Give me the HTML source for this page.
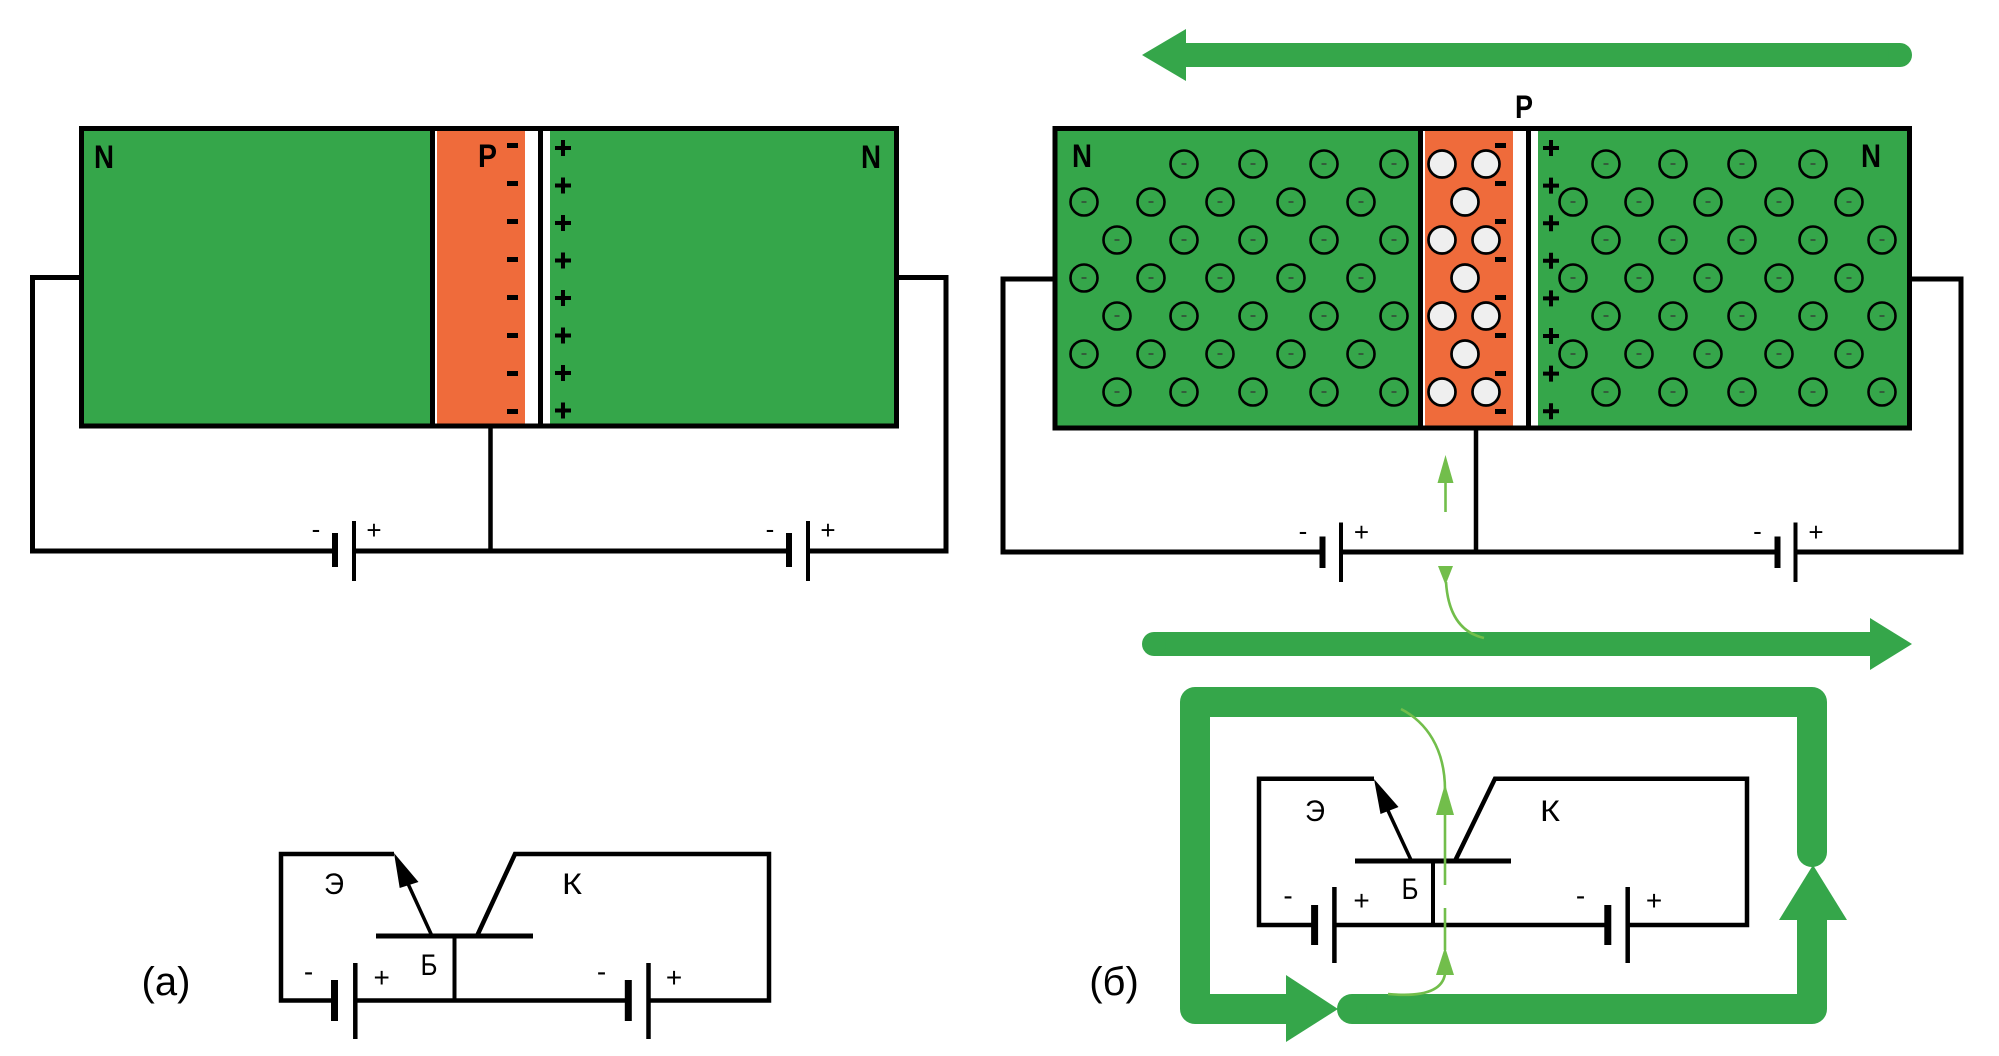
<!DOCTYPE html>
<html>
<head>
<meta charset="utf-8">
<style>
html,body{margin:0;padding:0;background:#ffffff;}
svg{display:block;}
text{font-family:"Liberation Sans","DejaVu Sans",sans-serif;}
</style>
</head>
<body>
<svg width="1999" height="1056" viewBox="0 0 1999 1056" xmlns="http://www.w3.org/2000/svg">
<rect x="0" y="0" width="1999" height="1056" fill="#ffffff"/>

<!-- ================= LEFT DIAGRAM (a top) ================= -->
<rect x="81.5" y="128.5" width="815" height="297.5" fill="#35a64a"/>
<rect x="435" y="131" width="2.5" height="293" fill="#ffffff"/>
<rect x="437" y="131" width="88" height="293" fill="#ef6b3b"/>
<rect x="525" y="131" width="13" height="293" fill="#ffffff"/>
<rect x="543" y="131" width="7" height="293" fill="#ffffff"/>
<line x1="432.5" y1="128.5" x2="432.5" y2="426" stroke="#000" stroke-width="5"/>
<line x1="540.5" y1="128.5" x2="540.5" y2="426" stroke="#000" stroke-width="5"/>
<rect x="81.5" y="128.5" width="815" height="297.5" fill="none" stroke="#000" stroke-width="5"/>

<!-- minus marks -->
<path d="M507 145.5H518M507 183.5H518M507 221.5H518M507 259.5H518M507 297.5H518M507 335.5H518M507 373.5H518M507 411.5H518" stroke="#000" stroke-width="5"/>
<!-- plus marks -->
<path d="M555 148H571M563 140V156M555 185.5H571M563 177.5V193.5M555 223H571M563 215V231M555 260.5H571M563 252.5V268.5M555 298H571M563 290V306M555 335.5H571M563 327.5V343.5M555 373H571M563 365V381M555 410.5H571M563 402.5V418.5" stroke="#000" stroke-width="4"/>

<text x="94" y="168" font-size="32" font-weight="bold" textLength="20" lengthAdjust="spacingAndGlyphs">N</text>
<text x="861" y="168" font-size="32" font-weight="bold" textLength="20" lengthAdjust="spacingAndGlyphs">N</text>
<text x="478" y="167" font-size="32" font-weight="bold" textLength="19" lengthAdjust="spacingAndGlyphs">P</text>

<!-- wires -->
<g stroke="#000" stroke-width="5" fill="none">
<polyline points="82,277.5 32.5,277.5 32.5,551 335,551"/>
<line x1="354" y1="551" x2="789" y2="551"/>
<polyline points="808,551 946,551 946,277.5 896,277.5"/>
</g>
<line x1="490.5" y1="426" x2="490.5" y2="551" stroke="#000" stroke-width="4.5"/>
<g stroke="#000">
<line x1="335" y1="533" x2="335" y2="567" stroke-width="6"/>
<line x1="354" y1="521" x2="354" y2="581" stroke-width="4"/>
<line x1="789" y1="533" x2="789" y2="567" stroke-width="6"/>
<line x1="808" y1="521" x2="808" y2="581" stroke-width="4"/>
</g>
<g font-size="26" text-anchor="middle">
<text x="316" y="538">-</text>
<text x="374" y="539">+</text>
<text x="770" y="538">-</text>
<text x="828" y="539">+</text>
</g>

<!-- ================= RIGHT DIAGRAM (б top) ================= -->
<!-- big arrows -->
<rect x="1185" y="43" width="715" height="24" fill="#35a64a"/>
<circle cx="1900" cy="55" r="12" fill="#35a64a"/>
<polygon points="1142,55 1186,29 1186,81" fill="#35a64a"/>

<rect x="1154" y="632" width="717" height="24" fill="#35a64a"/>
<circle cx="1154" cy="644" r="12" fill="#35a64a"/>
<polygon points="1870,618 1912,644 1870,670" fill="#35a64a"/>

<text x="1515" y="118" font-size="32" font-weight="bold" textLength="18" lengthAdjust="spacingAndGlyphs">P</text>

<rect x="1055" y="128.5" width="854.5" height="299.5" fill="#35a64a"/>
<rect x="1423" y="131" width="2.5" height="295" fill="#ffffff"/>
<rect x="1425" y="131" width="88" height="295" fill="#ef6b3b"/>
<rect x="1513" y="131" width="13" height="295" fill="#ffffff"/>
<rect x="1531" y="131" width="7" height="295" fill="#ffffff"/>
<line x1="1420.5" y1="128.5" x2="1420.5" y2="428" stroke="#000" stroke-width="5"/>
<line x1="1528.5" y1="128.5" x2="1528.5" y2="428" stroke="#000" stroke-width="5"/>
<rect x="1055" y="128.5" width="854.5" height="299.5" fill="none" stroke="#000" stroke-width="5"/>

<!-- ions -->
<g fill="none" stroke="#000" stroke-width="2.6">
<circle cx="1184" cy="164" r="13.5"/><circle cx="1253" cy="164" r="13.5"/><circle cx="1324" cy="164" r="13.5"/><circle cx="1394" cy="164" r="13.5"/>
<circle cx="1084" cy="202" r="13.5"/><circle cx="1151" cy="202" r="13.5"/><circle cx="1220" cy="202" r="13.5"/><circle cx="1291" cy="202" r="13.5"/><circle cx="1361" cy="202" r="13.5"/>
<circle cx="1117" cy="240" r="13.5"/><circle cx="1184" cy="240" r="13.5"/><circle cx="1253" cy="240" r="13.5"/><circle cx="1324" cy="240" r="13.5"/><circle cx="1394" cy="240" r="13.5"/>
<circle cx="1084" cy="278" r="13.5"/><circle cx="1151" cy="278" r="13.5"/><circle cx="1220" cy="278" r="13.5"/><circle cx="1291" cy="278" r="13.5"/><circle cx="1361" cy="278" r="13.5"/>
<circle cx="1117" cy="316" r="13.5"/><circle cx="1184" cy="316" r="13.5"/><circle cx="1253" cy="316" r="13.5"/><circle cx="1324" cy="316" r="13.5"/><circle cx="1394" cy="316" r="13.5"/>
<circle cx="1084" cy="354" r="13.5"/><circle cx="1151" cy="354" r="13.5"/><circle cx="1220" cy="354" r="13.5"/><circle cx="1291" cy="354" r="13.5"/><circle cx="1361" cy="354" r="13.5"/>
<circle cx="1117" cy="392" r="13.5"/><circle cx="1184" cy="392" r="13.5"/><circle cx="1253" cy="392" r="13.5"/><circle cx="1324" cy="392" r="13.5"/><circle cx="1394" cy="392" r="13.5"/>

<circle cx="1606" cy="164" r="13.5"/><circle cx="1673" cy="164" r="13.5"/><circle cx="1742" cy="164" r="13.5"/><circle cx="1813" cy="164" r="13.5"/>
<circle cx="1573" cy="202" r="13.5"/><circle cx="1639" cy="202" r="13.5"/><circle cx="1708" cy="202" r="13.5"/><circle cx="1779" cy="202" r="13.5"/><circle cx="1849" cy="202" r="13.5"/>
<circle cx="1606" cy="240" r="13.5"/><circle cx="1673" cy="240" r="13.5"/><circle cx="1742" cy="240" r="13.5"/><circle cx="1813" cy="240" r="13.5"/><circle cx="1882" cy="240" r="13.5"/>
<circle cx="1573" cy="278" r="13.5"/><circle cx="1639" cy="278" r="13.5"/><circle cx="1708" cy="278" r="13.5"/><circle cx="1779" cy="278" r="13.5"/><circle cx="1849" cy="278" r="13.5"/>
<circle cx="1606" cy="316" r="13.5"/><circle cx="1673" cy="316" r="13.5"/><circle cx="1742" cy="316" r="13.5"/><circle cx="1813" cy="316" r="13.5"/><circle cx="1882" cy="316" r="13.5"/>
<circle cx="1573" cy="354" r="13.5"/><circle cx="1639" cy="354" r="13.5"/><circle cx="1708" cy="354" r="13.5"/><circle cx="1779" cy="354" r="13.5"/><circle cx="1849" cy="354" r="13.5"/>
<circle cx="1606" cy="392" r="13.5"/><circle cx="1673" cy="392" r="13.5"/><circle cx="1742" cy="392" r="13.5"/><circle cx="1813" cy="392" r="13.5"/><circle cx="1882" cy="392" r="13.5"/>
</g>
<path stroke="#333" stroke-width="1.3" fill="none" d="
M1181.5 164h5M1250.5 164h5M1321.5 164h5M1391.5 164h5
M1081.5 202h5M1148.5 202h5M1217.5 202h5M1288.5 202h5M1358.5 202h5
M1114.5 240h5M1181.5 240h5M1250.5 240h5M1321.5 240h5M1391.5 240h5
M1081.5 278h5M1148.5 278h5M1217.5 278h5M1288.5 278h5M1358.5 278h5
M1114.5 316h5M1181.5 316h5M1250.5 316h5M1321.5 316h5M1391.5 316h5
M1081.5 354h5M1148.5 354h5M1217.5 354h5M1288.5 354h5M1358.5 354h5
M1114.5 392h5M1181.5 392h5M1250.5 392h5M1321.5 392h5M1391.5 392h5
M1603.5 164h5M1670.5 164h5M1739.5 164h5M1810.5 164h5
M1570.5 202h5M1636.5 202h5M1705.5 202h5M1776.5 202h5M1846.5 202h5
M1603.5 240h5M1670.5 240h5M1739.5 240h5M1810.5 240h5M1879.5 240h5
M1570.5 278h5M1636.5 278h5M1705.5 278h5M1776.5 278h5M1846.5 278h5
M1603.5 316h5M1670.5 316h5M1739.5 316h5M1810.5 316h5M1879.5 316h5
M1570.5 354h5M1636.5 354h5M1705.5 354h5M1776.5 354h5M1846.5 354h5
M1603.5 392h5M1670.5 392h5M1739.5 392h5M1810.5 392h5M1879.5 392h5"/>

<!-- holes -->
<g fill="#efefef" stroke="#000" stroke-width="2.7">
<circle cx="1442" cy="164" r="13.5"/><circle cx="1486" cy="164" r="13.5"/>
<circle cx="1465" cy="202" r="13.5"/>
<circle cx="1442" cy="240" r="13.5"/><circle cx="1486" cy="240" r="13.5"/>
<circle cx="1465" cy="278" r="13.5"/>
<circle cx="1442" cy="316" r="13.5"/><circle cx="1486" cy="316" r="13.5"/>
<circle cx="1465" cy="354" r="13.5"/>
<circle cx="1442" cy="392" r="13.5"/><circle cx="1486" cy="392" r="13.5"/>
</g>

<path d="M1495 145.5H1506M1495 183.5H1506M1495 221.5H1506M1495 259.5H1506M1495 297.5H1506M1495 335.5H1506M1495 373.5H1506M1495 411.5H1506" stroke="#000" stroke-width="5"/>
<path d="M1543 148H1559M1551 140V156M1543 185.6H1559M1551 177.6V193.6M1543 223.2H1559M1551 215.2V231.2M1543 260.8H1559M1551 252.8V268.8M1543 298.4H1559M1551 290.4V306.4M1543 336H1559M1551 328V344M1543 373.6H1559M1551 365.6V381.6M1543 411.2H1559M1551 403.2V419.2" stroke="#000" stroke-width="4"/>

<text x="1072" y="167" font-size="32" font-weight="bold" textLength="20" lengthAdjust="spacingAndGlyphs">N</text>
<text x="1861" y="167" font-size="32" font-weight="bold" textLength="20" lengthAdjust="spacingAndGlyphs">N</text>

<!-- wires right -->
<g stroke="#000" stroke-width="5" fill="none">
<polyline points="1056,279 1003,279 1003,552 1322.5,552"/>
<line x1="1341" y1="552" x2="1777.5" y2="552"/>
<polyline points="1795.5,552 1961,552 1961,279 1909,279"/>
</g>
<line x1="1476" y1="428" x2="1476" y2="552" stroke="#000" stroke-width="4.5"/>
<g stroke="#000">
<line x1="1322.5" y1="536.5" x2="1322.5" y2="568" stroke-width="6"/>
<line x1="1341" y1="522.5" x2="1341" y2="582" stroke-width="4"/>
<line x1="1777.5" y1="536.5" x2="1777.5" y2="568" stroke-width="6"/>
<line x1="1795.5" y1="522.5" x2="1795.5" y2="582" stroke-width="4"/>
</g>
<g font-size="26" text-anchor="middle">
<text x="1303" y="540">-</text>
<text x="1361.5" y="541">+</text>
<text x="1757.5" y="540">-</text>
<text x="1816" y="541">+</text>
</g>

<!-- light green arrows top -->
<g stroke="#72be4b" fill="none" stroke-width="2.6">
<line x1="1445.5" y1="480" x2="1445.5" y2="512"/>
<path d="M1446 582 Q1449 630 1484 638"/>
</g>
<polygon points="1445.5,455 1437.5,483 1453.5,483" fill="#72be4b"/>
<polygon points="1438,566 1453,566 1445.5,585" fill="#72be4b"/>

<!-- ================= BOTTOM LEFT (а) ================= -->
<g stroke="#000" stroke-width="4.5" fill="none">
<polyline points="394,854 281,854 281,1000.5 334.5,1000.5"/>
<line x1="355.3" y1="1000.5" x2="628.3" y2="1000.5"/>
<polyline points="648.5,1000.5 769,1000.5 769,854 515,854 477,936"/>
<line x1="454.5" y1="936" x2="454.5" y2="1000.5" stroke-width="4"/>
<line x1="376" y1="936" x2="533" y2="936" stroke-width="5"/>
<line x1="432" y1="936" x2="404" y2="875" stroke-width="3.5"/>
<line x1="334.5" y1="980" x2="334.5" y2="1021" stroke-width="7"/>
<line x1="355.3" y1="963" x2="355.3" y2="1039" stroke-width="4.5"/>
<line x1="628.3" y1="980" x2="628.3" y2="1021" stroke-width="7"/>
<line x1="648.5" y1="963" x2="648.5" y2="1039" stroke-width="4.5"/>
</g>
<polygon points="394,853 399.7,888 418.5,882" fill="#000"/>
<g font-size="30" text-anchor="middle">
<text x="334" y="894" textLength="20" lengthAdjust="spacingAndGlyphs">Э</text>
<text x="572" y="894" textLength="20" lengthAdjust="spacingAndGlyphs">К</text>
<text x="429" y="975" textLength="17" lengthAdjust="spacingAndGlyphs">Б</text>
</g>
<g font-size="28" text-anchor="middle">
<text x="308.6" y="981">-</text>
<text x="381.7" y="987">+</text>
<text x="601.6" y="981">-</text>
<text x="674" y="987">+</text>
</g>
<text x="166" y="995" font-size="40" text-anchor="middle">(а)</text>

<!-- ================= BOTTOM RIGHT (б) ================= -->
<path d="M1812 852 L1812 702 L1195 702 L1195 1009 L1288 1009" fill="none" stroke="#35a64a" stroke-width="30" stroke-linejoin="round" stroke-linecap="round"/>
<polygon points="1286,975 1338,1009 1286,1042" fill="#35a64a"/>
<path d="M1352 1009 L1812 1009 L1812 918" fill="none" stroke="#35a64a" stroke-width="30" stroke-linejoin="round"/>
<circle cx="1352" cy="1009" r="15" fill="#35a64a"/>
<polygon points="1779,920 1813,865 1847,920" fill="#35a64a"/>

<g stroke="#000" stroke-width="4.5" fill="none">
<polyline points="1374,778.7 1259,778.7 1259,925 1314.6,925"/>
<line x1="1334.4" y1="925" x2="1607.8" y2="925"/>
<polyline points="1627.7,925 1747,925 1747,778.7 1495,778.7 1455,861"/>
<line x1="1433" y1="861" x2="1433" y2="925" stroke-width="4"/>
<line x1="1355" y1="861" x2="1511" y2="861" stroke-width="5"/>
<line x1="1411" y1="860" x2="1384" y2="802" stroke-width="3.5"/>
<line x1="1314.6" y1="905" x2="1314.6" y2="945" stroke-width="7"/>
<line x1="1334.4" y1="887" x2="1334.4" y2="963" stroke-width="4.5"/>
<line x1="1607.8" y1="905" x2="1607.8" y2="945" stroke-width="7"/>
<line x1="1627.7" y1="887" x2="1627.7" y2="963" stroke-width="4.5"/>
</g>
<polygon points="1374,779 1380.5,814 1398.5,807" fill="#000"/>
<g font-size="30" text-anchor="middle">
<text x="1315" y="821" textLength="20" lengthAdjust="spacingAndGlyphs">Э</text>
<text x="1550" y="821" textLength="20" lengthAdjust="spacingAndGlyphs">К</text>
<text x="1410" y="899" textLength="17" lengthAdjust="spacingAndGlyphs">Б</text>
</g>
<g font-size="28" text-anchor="middle">
<text x="1288" y="905">-</text>
<text x="1361.5" y="910">+</text>
<text x="1580.5" y="905">-</text>
<text x="1654" y="910">+</text>
</g>
<text x="1114" y="995" font-size="40" text-anchor="middle">(б)</text>

<!-- light green arrows bottom -->
<g stroke="#72be4b" fill="none" stroke-width="2.6">
<path d="M1401 709 C1426 722 1445 748 1445 790"/>
<line x1="1445" y1="812" x2="1445" y2="885"/>
<line x1="1445" y1="908" x2="1445" y2="950"/>
<path d="M1445 974 Q1441 999 1388 994"/>
</g>
<polygon points="1445,784 1436,815 1454,815" fill="#72be4b"/>
<polygon points="1445,947 1436,975 1454,975" fill="#72be4b"/>
</svg>
</body>
</html>
